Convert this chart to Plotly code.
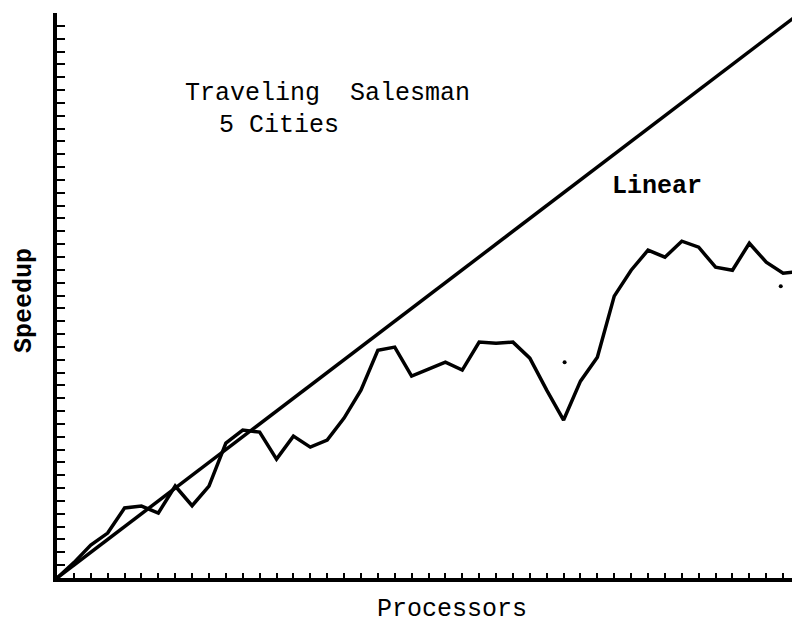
import plotly.graph_objects as go

# Processor counts (x positions, one per tick)
processors = [0, 1, 2, 3, 4, 5, 6, 7, 8, 9, 10, 11, 12, 13, 14, 15, 16, 17, 18, 19, 20, 21,
              22, 23, 24, 25, 26, 27, 28, 29, 30, 31, 32, 33, 34, 35, 36, 37, 38, 39, 40, 41,
              42, 43, 44]

speedup = [0.0, 1.2, 2.57, 3.5, 5.45, 5.6, 5.06, 7.16, 5.63, 7.16, 10.51, 11.52, 11.36, 9.26,
           11.05, 10.19, 10.74, 12.45, 14.63, 17.74, 17.98, 15.72, 16.26, 16.81, 16.19, 18.37,
           18.29, 18.37, 17.12, 14.63, 12.3, 15.33, 17.2, 21.95, 23.97, 25.53, 24.98, 26.23,
           25.76, 24.2, 23.97, 26.07, 24.59, 23.74, 23.89]

# Ideal linear speedup
linear_x = [0, 44]
linear_y = [0, 44]

# Stray specks visible on the scanned original
speck_x = [30.06, 42.86]
speck_y = [16.81, 22.72]

# The page body has an 8px margin, so the figure is 8px smaller and
# all reference pixel positions are shifted by 8px.
OFF = 8
W, H = 800 - OFF, 624 - OFF
ML, MR, MT, MB = 57 - OFF, 0, 5, 46
PW, PH = W - ML - MR, H - MT - MB

def px(x):
    return (x - OFF - ML) / PW

def py(y):
    return (H - MB - (y - OFF)) / PH

MONO = "Liberation Mono, Courier New, monospace"

fig = go.Figure()
fig.add_trace(go.Scatter(x=linear_x, y=linear_y, mode="lines",
                         line=dict(color="black", width=3.5), hoverinfo="skip",
                         showlegend=False, cliponaxis=False))
fig.add_trace(go.Scatter(x=processors, y=speedup, mode="lines",
                         line=dict(color="black", width=3.5), showlegend=False,
                         cliponaxis=False))
fig.add_trace(go.Scatter(x=speck_x, y=speck_y, mode="markers",
                         marker=dict(color="black", size=4), hoverinfo="skip",
                         showlegend=False))

axis_common = dict(showgrid=False, zeroline=False, showline=True, linecolor="black",
                   linewidth=3.5, ticks="inside", tickcolor="black", tickwidth=2,
                   showticklabels=False, dtick=1, tick0=0, mirror=False)

fig.update_xaxes(range=[0, 44], ticklen=5, **axis_common)
fig.update_yaxes(range=[0, 44], ticklen=8, **axis_common)

annotations = [
    dict(text="Traveling  Salesman", x=px(183), y=py(93), xanchor="left", yanchor="middle",
         font=dict(family=MONO, size=25, color="black")),
    dict(text="5 Cities", x=px(217), y=py(126), xanchor="left", yanchor="middle",
         font=dict(family=MONO, size=25, color="black")),
    dict(text="<b>Linear</b>", x=px(657), y=py(186), xanchor="center", yanchor="middle",
         font=dict(family=MONO, size=25, color="black")),
    dict(text="Processors", x=px(452), y=py(609), xanchor="center", yanchor="middle",
         font=dict(family=MONO, size=25, color="black")),
    dict(text="<b>Speedup</b>", x=px(24), y=py(301), xanchor="center", yanchor="middle",
         textangle=-90, font=dict(family=MONO, size=25, color="black")),
]
for a in annotations:
    a.update(xref="paper", yref="paper", showarrow=False)

fig.update_layout(width=W, height=H, margin=dict(l=ML, r=MR, t=MT, b=MB),
                  paper_bgcolor="white", plot_bgcolor="white",
                  annotations=annotations)

fig.write_html("out.html")
